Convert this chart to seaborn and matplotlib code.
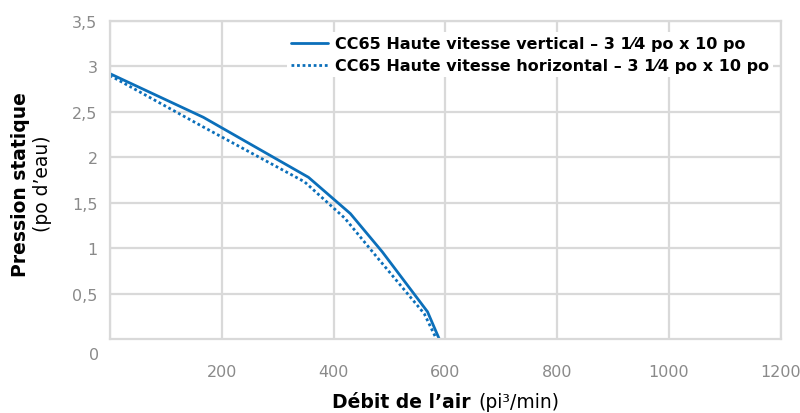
import pandas as pd
import seaborn as sns
import matplotlib.pyplot as plt
from matplotlib.lines import Line2D
from matplotlib.offsetbox import TextArea, HPacker, AnchoredOffsetbox

# --- données ---
debit_vertical = [0, 167, 355, 430, 487, 568, 589]
pression_vertical = [2.92, 2.44, 1.78, 1.38, 0.96, 0.30, 0.0]
debit_horizontal = [0, 165, 348, 420, 475, 562, 584]
pression_horizontal = [2.90, 2.34, 1.73, 1.33, 0.92, 0.28, 0.0]

series = ["CC65 Haute vitesse vertical \u2013 3 1\u20444 po x 10 po",
          "CC65 Haute vitesse horizontal \u2013 3 1\u20444 po x 10 po"]
x_ticks = [200, 400, 600, 800, 1000, 1200]
y_ticks = [0.5, 1, 1.5, 2, 2.5, 3, 3.5]
y_labels = ["0,5", "1", "1,5", "2", "2,5", "3", "3,5"]

df = pd.DataFrame({
    "debit": debit_vertical + debit_horizontal,
    "pression": pression_vertical + pression_horizontal,
    "serie": [series[0]] * len(debit_vertical) + [series[1]] * len(debit_horizontal),
})

sns.set_style("white")
plt.rcParams["font.family"] = ["DejaVu Sans"]
plt.rcParams["text.color"] = "black"

blue = "#0b6fba"
grid_c = "#d9d9d9"
tick_c = "#8a8a8a"

fig = plt.figure(figsize=(8, 4.14), dpi=100)
ax = fig.add_axes([0.1375, 0.1787, 0.976 - 0.1375, 0.9469 - 0.1787])

sns.lineplot(data=df, x="debit", y="pression", hue="serie", style="serie",
             palette={series[0]: blue, series[1]: blue},
             dashes={series[0]: "", series[1]: (1, 1)},
             sort=False, estimator=None, linewidth=2.0, legend=False, ax=ax)

ax.set_xlim(0, 1200)
ax.set_ylim(0, 3.5)
ax.set_xticks([0] + x_ticks)
ax.set_xticklabels([""] + [str(v) for v in x_ticks])
ax.set_yticks(y_ticks)
ax.set_yticklabels(y_labels)
ax.tick_params(axis="both", length=0, labelsize=11.5, labelcolor=tick_c)
ax.tick_params(axis="x", pad=18)
ax.tick_params(axis="y", pad=9)
ax.grid(True, color=grid_c, linewidth=1.6)
for sp in ax.spines.values():
    sp.set_color(grid_c)
    sp.set_linewidth(1.6)
ax.set_xlabel("")
ax.set_ylabel("")

# le "0" isolé à gauche sous l'axe
ax.text(-0.016, -0.05, "0", transform=ax.transAxes, ha="right", va="center",
        fontsize=11.5, color=tick_c)

# légende
handles = [Line2D([], [], color=blue, lw=2.0),
           Line2D([], [], color=blue, lw=2.0, dashes=(1, 1))]
leg = ax.legend(handles, series, loc="upper right", bbox_to_anchor=(1.0, 0.99),
                frameon=True, fancybox=False, framealpha=1, edgecolor="none",
                prop={"weight": "bold", "size": 11.5}, handlelength=2.3,
                handletextpad=0.45, labelspacing=0.45, borderpad=0.25)
for t in leg.get_texts():
    t.set_color("black")

# titre de l'axe x (gras + normal)
xa = HPacker(children=[TextArea("D\u00e9bit de l\u2019air", textprops=dict(fontsize=13.5, fontweight="bold", color="black")),
                       TextArea("(pi\u00b3/min)", textprops=dict(fontsize=13.5, color="black"))],
             align="baseline", pad=0, sep=5)
fig.add_artist(AnchoredOffsetbox(loc="center", child=xa, frameon=False, pad=0,
                                 bbox_to_anchor=(0.557, 1 - 403 / 414),
                                 bbox_transform=fig.transFigure))

# titre de l'axe y sur deux lignes
fig.text(21 / 800, 1 - 185 / 414, "Pression statique", rotation=90, ha="center", va="center",
         fontsize=13.5, fontweight="bold", color="black")
fig.text(43 / 800, 1 - 184 / 414, "(po d\u2019eau)", rotation=90, ha="center", va="center",
         fontsize=13.5, color="black")

fig.savefig("out.png", dpi=100)
